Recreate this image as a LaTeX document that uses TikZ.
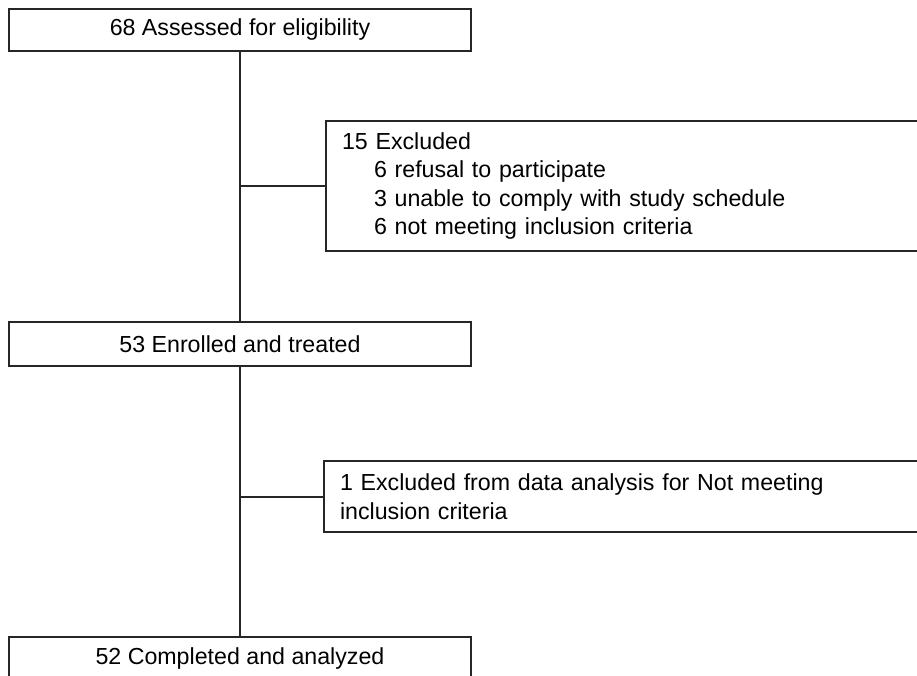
\documentclass[tikz,border=0pt]{standalone}
\usepackage{fontspec}
\setmainfont{Liberation Sans}
\usetikzlibrary{positioning}

\begin{document}
\begin{tikzpicture}[x=1pt,y=-1pt,
  flowbox/.style={draw=black!85,line width=1.4pt,minimum width=462pt,
                  minimum height=42pt,inner sep=0pt,
                  font=\fontsize{23.2}{28.5}\selectfont},
  exclbox/.style={draw=black!85,line width=2pt,anchor=north west,
                  minimum width=600pt,text width=568pt,inner xsep=16pt,
                  align=left,font=\fontsize{23.2}{28.5}\selectfont},
  link/.style={draw=black!85,line width=1.2pt}
]
\useasboundingbox (0,0) rectangle (917,676);
\node[flowbox] (assess) at (240,30) {68 Assessed for eligibility};
\node[exclbox,minimum height=130pt] (excl) at (325,120)
  {15 Excluded\\
   \hspace*{32pt}6 refusal to participate\\
   \hspace*{32pt}3 unable to comply with study schedule\\
   \hspace*{32pt}6 not meeting inclusion criteria};
\node[flowbox,minimum height=44pt] (enrol) at (240,344) {53 Enrolled and treated};
\node[exclbox,minimum height=71pt,inner xsep=13pt] (drop) at (323,460)
  {1 Excluded from data analysis for Not meeting\\inclusion criteria};
\node[flowbox] (done) at (240,658) {52 Completed and analyzed};
\draw[link] (assess) -- (enrol);
\draw[link] (enrol) -- (done);
\draw[link] (excl.west) -- (excl.west -| assess.south);
\draw[link,line width=2pt] (drop.west) -- (drop.west -| enrol.south);
\end{tikzpicture}
\end{document}
